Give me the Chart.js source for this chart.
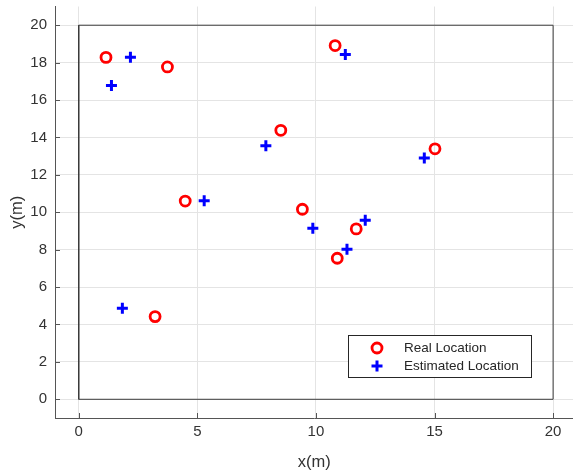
<!DOCTYPE html>
<html>
<head>
<meta charset="utf-8">
<script src="https://cdn.jsdelivr.net/npm/chart.js@4/dist/chart.umd.min.js"></script>
<style>
html,body{margin:0;padding:0;background:#fff;overflow:hidden;width:573px;height:472px;}
canvas{display:block;margin-top:-2px;}
</style>
</head>
<body>
<canvas id="c" width="582" height="474"></canvas>
<script>
// ---- data ----
const realX = [1.15, 3.74, 10.81, 8.52, 15.02, 4.49, 9.43, 11.70, 10.90, 3.22];
const realY = [18.28, 17.77, 18.91, 14.38, 13.39, 10.60, 10.16, 9.11, 7.54, 4.42];
const estX  = [2.18, 1.38, 11.24, 7.89, 14.57, 5.29, 9.87, 12.08, 11.31, 1.84];
const estY  = [18.29, 16.77, 18.43, 13.55, 12.90, 10.62, 9.14, 9.57, 8.02, 4.87];
const regionX = [0, 20, 20, 0, 0];
const regionY = [0, 0, 20, 20, 0];
const xTicks = [0, 5, 10, 15, 20];
const yTicks = [0, 2, 4, 6, 8, 10, 12, 14, 16, 18, 20];
const seriesLabels = ['Real Location', 'Estimated Location'];
const xLabel = 'x(m)';
const yLabel = 'y(m)';

const toPts = (xs, ys) => xs.map((x, i) => ({x: x, y: ys[i]}));

const FONT = '"Liberation Sans", Arial, sans-serif';

const innerTicks = {
  id: 'innerTicks',
  afterDatasetsDraw(chart) {
    const ctx = chart.ctx, a = chart.chartArea;
    const xs = chart.scales.x, ys = chart.scales.y;
    ctx.save();
    ctx.strokeStyle = '#555';
    ctx.lineWidth = 1;
    ctx.beginPath();
    xTicks.forEach(v => {
      const px = Math.round(xs.getPixelForValue(v)) + 0.5;
      ctx.moveTo(px, a.bottom); ctx.lineTo(px, a.bottom - 5);
    });
    yTicks.forEach(v => {
      const py = Math.round(ys.getPixelForValue(v)) + 0.5;
      ctx.moveTo(a.left, py); ctx.lineTo(a.left + 5, py);
    });
    ctx.stroke();
    ctx.restore();
  }
};

const customLegend = {
  id: 'customLegend',
  afterDraw(chart) {
    const ctx = chart.ctx, a = chart.chartArea;
    const w = 183, h = 42;
    const x0 = 348, y0 = a.bottom - 41 - h;
    ctx.save();
    ctx.fillStyle = '#fff';
    ctx.fillRect(x0, y0, w, h);
    ctx.strokeStyle = '#262626';
    ctx.lineWidth = 1;
    ctx.strokeRect(Math.round(x0) + 0.5, Math.round(y0) + 0.5, w, h);
    const mx = x0 + 29;
    const r1 = y0 + 13, r2 = y0 + 31;
    // circle
    ctx.strokeStyle = '#ff0000';
    ctx.lineWidth = 2.8;
    ctx.beginPath();
    ctx.arc(mx, r1, 5, 0, Math.PI * 2);
    ctx.stroke();
    // cross
    ctx.strokeStyle = '#0000ff';
    ctx.lineWidth = 3;
    ctx.beginPath();
    ctx.moveTo(mx - 5.5, r2); ctx.lineTo(mx + 5.5, r2);
    ctx.moveTo(mx, r2 - 5.5); ctx.lineTo(mx, r2 + 5.5);
    ctx.stroke();
    ctx.fillStyle = '#262626';
    ctx.font = '13.5px ' + FONT;
    ctx.textBaseline = 'middle';
    ctx.textAlign = 'left';
    ctx.fillText(chart.data.datasets[0].label, x0 + 56, r1 + 0.5);
    ctx.fillText(chart.data.datasets[1].label, x0 + 56, r2 + 0.5);
    ctx.restore();
  }
};

new Chart(document.getElementById('c'), {
  type: 'scatter',
  data: {
    datasets: [
      {
        label: seriesLabels[0],
        data: toPts(realX, realY),
        pointStyle: 'circle',
        pointRadius: 5,
        pointHoverRadius: 5,
        pointBorderWidth: 2.8,
        borderColor: '#ff0000',
        backgroundColor: 'rgba(0,0,0,0)',
        order: 2
      },
      {
        label: seriesLabels[1],
        data: toPts(estX, estY),
        pointStyle: 'cross',
        pointRadius: 5.5,
        pointHoverRadius: 5.5,
        pointBorderWidth: 3,
        borderColor: '#0000ff',
        backgroundColor: '#0000ff',
        order: 1
      },
      {
        label: 'region',
        data: toPts(regionX, regionY),
        showLine: true,
        pointRadius: 0,
        borderColor: '#3a3a3a',
        borderWidth: 1,
        fill: false,
        order: 3
      }
    ]
  },
  options: {
    responsive: false,
    animation: false,
    devicePixelRatio: 1,
    layout: { padding: { top: 5, right: 0, left: 0, bottom: 0 } },
    plugins: {
      legend: { display: false },
      tooltip: { enabled: false }
    },
    scales: {
      x: {
        type: 'linear',
        min: -1,
        max: 20.86,
        afterBuildTicks: s => { s.ticks = xTicks.map(v => ({value: v})); },
        afterFit: s => { s.height = 54; s.paddingLeft = 0; s.paddingRight = 0; },
        grid: { color: '#e4e4e4', drawTicks: false, lineWidth: 1 },
        border: { display: true, color: '#555', width: 1 },
        ticks: { color: '#333', font: { family: FONT, size: 15 }, padding: 5, maxRotation: 0 },
        title: { display: true, text: xLabel, color: '#333', font: { family: FONT, size: 16.5 }, padding: { top: 2, bottom: 0 } }
      },
      y: {
        type: 'linear',
        min: -1,
        max: 21,
        afterBuildTicks: s => { s.ticks = yTicks.map(v => ({value: v})); },
        afterFit: s => { s.width = 55; s.paddingTop = 0; s.paddingBottom = 0; },
        grid: { color: '#e4e4e4', drawTicks: false, lineWidth: 1 },
        border: { display: true, color: '#555', width: 1 },
        ticks: { color: '#333', font: { family: FONT, size: 15 }, padding: 8 },
        title: { display: true, text: yLabel, color: '#333', font: { family: FONT, size: 16.5 }, padding: { top: 8, bottom: 2 } }
      }
    }
  },
  plugins: [innerTicks, customLegend]
});
</script>
</body>
</html>
